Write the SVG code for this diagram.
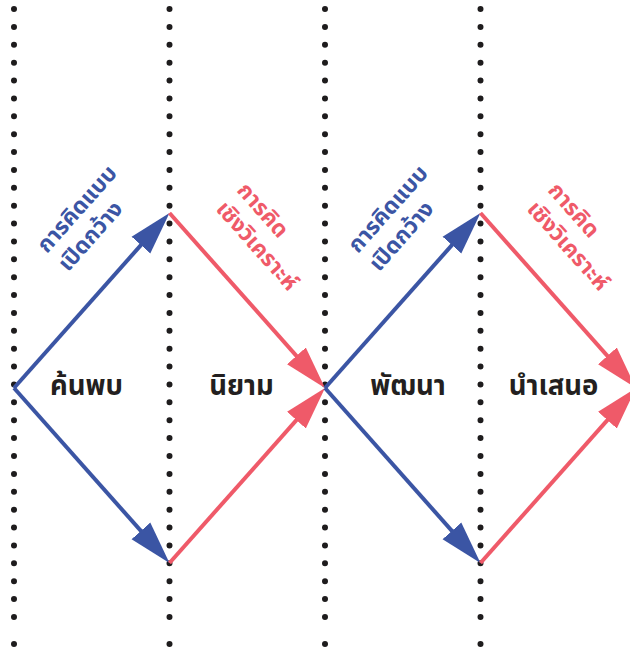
<svg xmlns="http://www.w3.org/2000/svg" width="630" height="647" viewBox="0 0 630 647">
<style>
.bg{fill:#ffffff}
.dots{stroke:#1e1c1d;stroke-width:6;stroke-linecap:round;stroke-dasharray:0 17.88;fill:none}
.dot{fill:#1e1c1d}
.blue{stroke:#3b55a4;stroke-width:4;fill:none}
.red{stroke:#ef5a69;stroke-width:4;fill:none}
.stage{font-family:"Noto Sans Thai","Noto Sans","Liberation Sans",sans-serif;font-weight:700;font-size:27.5px;fill:#231f20;text-anchor:middle}
.lbl{font-family:"Noto Sans Thai","Noto Sans","Liberation Sans",sans-serif;font-weight:700;font-size:22.5px}
.lblb{fill:#3b55a4}
.lblr{fill:#ef5a69}
</style>
<defs>
<marker id="ab" markerUnits="userSpaceOnUse" markerWidth="50" markerHeight="30" viewBox="0 -15 50 30" refX="23" refY="0" orient="auto">
<path d="M0,-12.5 L43,0 L0,12.5 z" fill="#3b55a4"/>
</marker>
<marker id="ar" markerUnits="userSpaceOnUse" markerWidth="50" markerHeight="30" viewBox="0 -15 50 30" refX="23" refY="0" orient="auto">
<path d="M0,-12.5 L43,0 L0,12.5 z" fill="#ef5a69"/>
</marker>
</defs>
<rect class="bg" x="0" y="0" width="630" height="647"/>
<g id="guides">
<path class="dots" d="M14,9 V618 M169.5,9 V618 M325,9 V618 M480.5,9 V618"/>
<circle class="dot" cx="14" cy="644" r="3"/>
<circle class="dot" cx="169.5" cy="644" r="3"/>
<circle class="dot" cx="325" cy="644" r="3"/>
<circle class="dot" cx="480.5" cy="644" r="3"/>
</g>
<g id="connectors">
<path class="blue" d="M14,388 L156.2,227.9" marker-end="url(#ab)"/>
<path class="blue" d="M14,388 L156.2,548.1" marker-end="url(#ab)"/>
<path class="red" d="M169.5,213 L311.7,373.05" marker-end="url(#ar)"/>
<path class="red" d="M169.5,563 L311.7,402.95" marker-end="url(#ar)"/>
<path class="blue" d="M325,388 L467.2,227.9" marker-end="url(#ab)"/>
<path class="blue" d="M325,388 L467.2,548.1" marker-end="url(#ab)"/>
<path class="red" d="M480.5,213 L622.7,373.05" marker-end="url(#ar)"/>
<path class="red" d="M480.5,563 L622.7,402.95" marker-end="url(#ar)"/>
</g>
<g id="discover"><text class="stage" x="86.5" y="395">ค้นพบ</text></g>
<g id="define"><text class="stage" x="241.5" y="395">นิยาม</text></g>
<g id="develop"><text class="stage" x="408" y="395">พัฒนา</text></g>
<g id="deliver"><text class="stage" x="553.5" y="395">นำเสนอ</text></g>
<g id="label-divergent-1" class="lbl lblb" transform="translate(47,254) rotate(-48.4)">
<text x="0" y="0">การคิดแบบ</text>
<text x="0" y="28">เปิดกว้าง</text>
</g>
<g id="label-convergent-1" class="lbl lblr" transform="translate(236,191) rotate(48.4)">
<text x="0" y="0">การคิด</text>
<text x="0" y="28">เชิงวิเคราะห์</text>
</g>
<g id="label-divergent-2" class="lbl lblb" transform="translate(358,254) rotate(-48.4)">
<text x="0" y="0">การคิดแบบ</text>
<text x="0" y="28">เปิดกว้าง</text>
</g>
<g id="label-convergent-2" class="lbl lblr" transform="translate(547,191) rotate(48.4)">
<text x="0" y="0">การคิด</text>
<text x="0" y="28">เชิงวิเคราะห์</text>
</g>
</svg>
